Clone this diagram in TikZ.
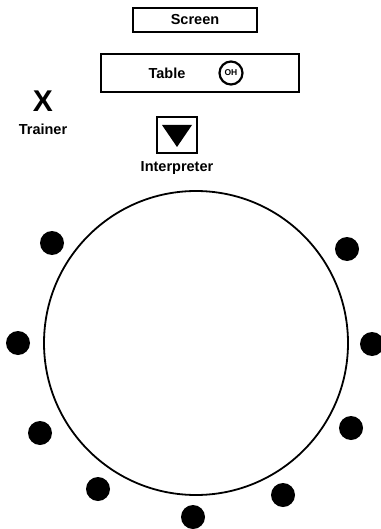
\documentclass[tikz,border=0pt]{standalone}
\usepackage{fontspec}
\setmainfont{Liberation Sans}
\usetikzlibrary{shapes.geometric,positioning}

\begin{document}
\begin{tikzpicture}[x=1pt, y=-1pt, line width=1.6pt,
  lbl/.style={font=\fontsize{14.5}{16}\selectfont\bfseries},
  seat/.style={circle, fill=black, minimum size=24pt, inner sep=0pt}]
  \useasboundingbox (0,0) rectangle (380,529);
  % front of the room
  \node[draw, minimum width=124pt, minimum height=24pt, lbl] (screen) at (195,20) {Screen};
  \node[draw, minimum width=198pt, minimum height=38pt] (table) at (200,73) {};
  \node[lbl] (tablelbl) at (167,73) {Table};
  \node[draw, circle, line width=2.2pt, minimum size=23pt, inner sep=0pt,
    font=\fontsize{8.5}{9}\selectfont\bfseries] (oh) at (231,73) {OH};
  % trainer
  \node[font=\fontsize{30}{32}\selectfont\bfseries] (trainer) at (43,101) {X};
  \node[lbl, below=4pt of trainer] (trainerlbl) {Trainer};
  % interpreter
  \node[draw, line width=2.2pt, minimum width=40pt, minimum height=36pt] (interp) at (177,135) {};
  \fill (162,125) -- (192,125) -- (177,147) -- cycle;
  \node[lbl, below=3pt of interp] (interplbl) {Interpreter};
  % group
  \draw[line width=1.8pt] (196,343) circle[radius=152];
  \foreach \sx/\sy [count=\i] in {52/243, 347/249, 18/343, 372/344, 40/433,
      351/428, 98/489, 283/495, 193/517}
    \node[seat] (seat\i) at (\sx,\sy) {};
\end{tikzpicture}
\end{document}
